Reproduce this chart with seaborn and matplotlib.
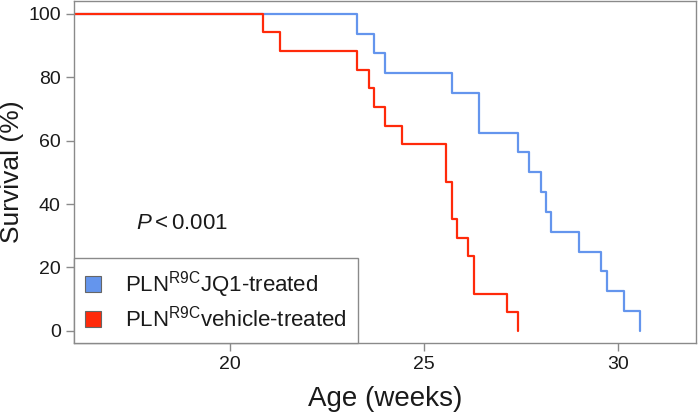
import matplotlib
matplotlib.use("Agg")
import matplotlib.pyplot as plt
from matplotlib.patches import Patch
import pandas as pd
import seaborn as sns

# Kaplan-Meier steps (weeks, % surviving)
jq1_weeks = [16.0, 23.29, 23.72, 24.01, 25.72, 26.43, 27.42, 27.71, 28.00,
             28.13, 28.28, 28.99, 29.56, 29.70, 30.14, 30.56]
jq1_surv = [100, 93.75, 87.5, 81.25, 75.0, 62.5, 56.25, 50.0, 43.75,
            37.5, 31.25, 25.0, 18.75, 12.5, 6.25, 0]

veh_weeks = [16.0, 20.87, 21.30, 23.29, 23.58, 23.72, 24.00, 24.43, 25.58,
             25.72, 25.86, 26.14, 26.28, 27.14, 27.43]
veh_surv = [100, 94.1, 88.2, 82.4, 76.5, 70.6, 64.7, 58.8, 47.1,
            35.3, 29.4, 23.5, 11.8, 5.9, 0]

groups = ["PLN$^{\\mathrm{R9C}}$JQ1-treated", "PLN$^{\\mathrm{R9C}}$vehicle-treated"]
colors = {groups[0]: "#6495ED", groups[1]: "#FF2A0A"}

df = pd.concat([
    pd.DataFrame({"Age": jq1_weeks, "Survival": jq1_surv, "Group": groups[0]}),
    pd.DataFrame({"Age": veh_weeks, "Survival": veh_surv, "Group": groups[1]}),
], ignore_index=True)

sns.set_theme(style="ticks")
plt.rcParams["font.family"] = ["Liberation Sans", "DejaVu Sans"]
plt.rcParams["mathtext.fontset"] = "custom"
plt.rcParams["mathtext.rm"] = "Liberation Sans"
plt.rcParams["mathtext.it"] = "Liberation Sans:italic"

fig = plt.figure(figsize=(6.99, 4.13), dpi=100)
ax = fig.add_axes([74 / 699, 1 - 343 / 413, 622 / 699, 342 / 413])

sns.lineplot(data=df, x="Age", y="Survival", hue="Group", palette=colors,
             estimator=None, sort=False, drawstyle="steps-post", lw=1.6,
             legend=False, ax=ax)

ax.set_xlim(16, 32)
ax.set_ylim(-3.8, 104)
ax.set_xticks([20, 25, 30])
ax.set_yticks([0, 20, 40, 60, 80, 100])
for s in ax.spines.values():
    s.set_visible(True)
    s.set_color("#8a8a8a")
    s.set_linewidth(1.0)
ax.tick_params(colors="#8a8a8a", labelcolor="#1a1a1a", labelsize=14, length=6, width=1)

ax.set_xlabel("Age (weeks)", fontsize=20, color="#1a1a1a", labelpad=9)
ax.set_ylabel("Survival (%)", fontsize=19, color="#1a1a1a", labelpad=3)

ax.text(17.6, 34, "$\\mathit{P}<\\mathrm{0.001}$", fontsize=16, color="#1a1a1a",
        va="center", ha="left")

handles = [Patch(facecolor=colors[g], edgecolor="#666666", lw=0.8, label=g) for g in groups]
leg = ax.legend(handles=handles, loc="lower left", bbox_to_anchor=(0, 0),
                borderaxespad=0, fontsize=16, frameon=True, fancybox=False,
                framealpha=1, edgecolor="#8a8a8a", handlelength=0.7,
                handleheight=0.7, handletextpad=1.1, labelspacing=0.25,
                borderpad=0.5)
leg.get_frame().set_linewidth(1.0)
for t in leg.get_texts():
    t.set_color("#1a1a1a")

fig.savefig("out.png", dpi=100)
